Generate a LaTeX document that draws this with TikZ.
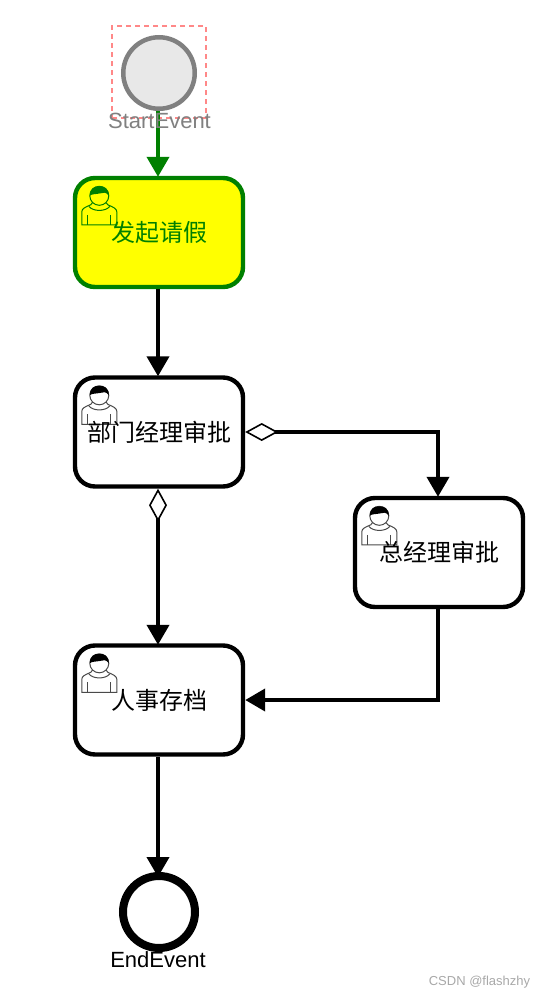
\documentclass[tikz,border=0pt]{standalone}
\usepackage{fontspec}
\setmainfont{Liberation Sans}
\newfontfamily\cjk{Noto Sans CJK SC}
\usetikzlibrary{arrows.meta,calc}
\definecolor{flowgreen}{RGB}{0,128,0}
\definecolor{startgray}{RGB}{128,128,128}
\definecolor{startfill}{RGB}{232,232,232}
\definecolor{selred}{RGB}{255,136,136}
\definecolor{iconline}{RGB}{74,74,74}
\definecolor{markgray}{RGB}{168,168,168}
\definecolor{hlyellow}{RGB}{255,255,0}
\definecolor{inkblack}{RGB}{0,0,0}
\tikzset{
  x=1pt,y=-1pt,
  usericon/.pic={
    \begin{scope}[xshift=9pt,yshift=-9pt,line width=1pt]
    \path[draw=\iconstroke,fill=\iconfill] (0,40) -- (0,27) .. controls (0,24) and (3,22.5) .. (9,20)
      .. controls (10,19.5) and (10.5,18.5) .. (10.5,18) -- (24.5,18)
      .. controls (24.5,18.5) and (25,19.5) .. (26,20)
      .. controls (32,22.5) and (35,24) .. (35,27) -- (35,40) -- cycle;
    \path[draw=\iconstroke] (6,30) -- (6,40) (29,30) -- (29,40);
    \path[draw=\iconstroke,fill=\iconfill] (17.5,11) circle[radius=9.5];
    \path[draw=\iconstroke] (7,21.5) .. controls (11,27) and (24,27) .. (28,21.5);
    \path[fill=\iconink] (8,11) .. controls (8,3) and (13,1.5) .. (17.5,1.5)
      .. controls (22,1.5) and (27,3) .. (27,11)
      .. controls (24,7) and (22,7.5) .. (19,8.5)
      .. controls (14,9.5) and (10,9) .. (8,11) -- cycle;
    \end{scope}
  },
  task/.style={draw=inkblack,fill=white,line width=4.4pt,rounded corners=20pt,
    minimum width=168pt,minimum height=109pt,inner sep=0pt},
  activetask/.style={task,draw=flowgreen,fill=hlyellow},
  tasklabel/.style={font=\cjk\fontsize{24}{28}\selectfont,inner sep=0pt},
  flow/.style={draw=inkblack,line width=4pt,-{Triangle[length=20pt,width=22pt]}},
  flowdiamond/.style={draw=inkblack,line width=4pt,
    {Diamond[length=33pt,width=18pt,open,fill=white,line width=1.6pt]}-{Triangle[length=20pt,width=22pt]}},
  activeflow/.style={flow,draw=flowgreen},
  evtlabel/.style={font=\fontsize{22}{26}\selectfont,inner sep=0pt},
}
\begin{document}
\begin{tikzpicture}
\useasboundingbox (0,0) rectangle (545,999);
\node[draw=selred,line width=2pt,dash pattern=on 5pt off 4pt,minimum width=94pt,minimum height=92pt,inner sep=0pt,outer sep=0pt] (sel) at (159,72) {};
\node[circle,draw=startgray,fill=startfill,line width=4.5pt,minimum size=71.5pt,inner sep=0pt] (start) at (159,73) {};
\node[activetask] (t1) at (159,232.5) {};
\node[task] (t2) at (159,432) {};
\node[task] (t3) at (439,552.5) {};
\node[task] (t4) at (159,700) {};
\node[circle,draw=inkblack,fill=white,line width=8pt,minimum size=72pt,inner sep=0pt] (end) at (159,912) {};
\def\iconstroke{flowgreen}\def\iconfill{hlyellow}\def\iconink{flowgreen}
\pic at (t1.north west) {usericon};
\def\iconstroke{iconline}\def\iconfill{white}\def\iconink{inkblack}
\pic at (t2.north west) {usericon};
\pic at (t3.north west) {usericon};
\pic at (t4.north west) {usericon};
\node[tasklabel,text=flowgreen] (t1label) at (t1.center) {发起请假};
\node[tasklabel,text=inkblack] (t2label) at (t2.center) {部门经理审批};
\node[tasklabel,text=inkblack] (t3label) at (t3.center) {总经理审批};
\node[tasklabel,text=inkblack] (t4label) at (t4.center) {人事存档};
\draw[activeflow] ([xshift=-1pt]start.south) -- ([xshift=-1pt,yshift=-1pt]t1.north);
\draw[flow] ([xshift=-1pt]t1.south) -- ([xshift=-1pt,yshift=-1pt]t2.north);
\draw[flowdiamond] ([xshift=-1pt]t2.south) -- ([xshift=-1pt,yshift=-1.5pt]t4.north);
\draw[flowdiamond] (t2.east) -| ([xshift=-1pt,yshift=-1pt]t3.north);
\draw[flow] ([xshift=-1pt]t3.south) |- (t4.east);
\draw[flow] ([xshift=-1pt]t4.south) -- ([xshift=-1pt,yshift=-5pt]end.north);
\node[evtlabel,text=startgray] (startlabel) at (159.5,120.5) {StartEvent};
\node[evtlabel,text=inkblack] (endlabel) at (158,960) {EndEvent};
\node[font=\fontsize{13}{15}\selectfont,text=markgray,inner sep=0pt] (mark) at (479.5,982) {CSDN @flashzhy};
\end{tikzpicture}
\end{document}
